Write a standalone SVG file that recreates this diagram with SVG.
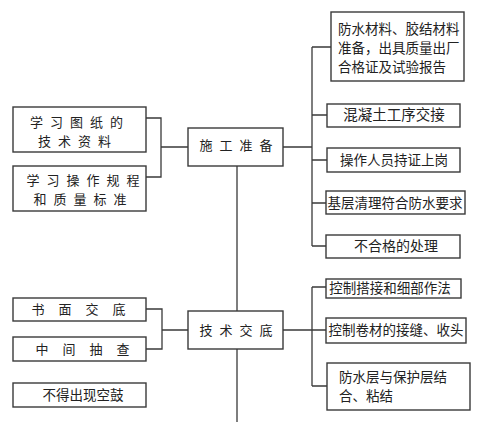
<svg xmlns="http://www.w3.org/2000/svg" width="481" height="422" viewBox="0 0 481 422">
<style>
.b{fill:#fff;stroke:#3a3a3a;stroke-width:1.4}
.c{fill:none;stroke:#3a3a3a;stroke-width:1.3}
text{font-family:"Noto Sans CJK SC","Liberation Sans",sans-serif;fill:#222;font-size:13.5px}
.m{text-anchor:middle}
.s{font-size:13px;letter-spacing:7px}
.w{font-size:13px;letter-spacing:14px}
</style>
<rect width="481" height="422" fill="#fff"/>
<g id="connectors">
<path class="c" d="M146,118H161V177H146M161,147H188"/>
<path class="c" d="M283,147H312M312,47V246M312,47H331M312,115H327M312,160H327M312,203H326M312,246H326"/>
<path class="c" d="M237,166V311M237,349V422"/>
<path class="c" d="M146,309H162V349H146M162,330H188"/>
<path class="c" d="M283,330H326M312,287V386M312,287H326M312,386H327"/>
</g>
<g id="n-study-drawings"><rect class="b" x="13" y="107" width="133" height="45"/><text class="m s" x="80" y="126.5">学习图纸的</text><text class="m s" x="78" y="145.5">技术资料</text></g>
<g id="n-study-rules"><rect class="b" x="13" y="166" width="133" height="45"/><text class="m s" x="86.5" y="184.5">学习操作规程</text><text class="m s" x="83.5" y="203.5">和质量标准</text></g>
<g id="n-prep"><rect class="b" x="188" y="128" width="95" height="38"/><text class="m s" x="239.5" y="150">施工准备</text></g>
<g id="n-materials"><rect class="b" x="331" y="12" width="133" height="69"/><text x="338" y="34">防水材料、胶结材料</text><text x="338" y="53">准备，出具质量出厂</text><text x="338" y="72">合格证及试验报告</text></g>
<g id="n-concrete"><rect class="b" x="327" y="104" width="133" height="23"/><text class="m" x="394" y="120" style="font-size:14.5px">混凝土工序交接</text></g>
<g id="n-workers"><rect class="b" x="327" y="148" width="133" height="24"/><text class="m" x="394" y="165">操作人员持证上岗</text></g>
<g id="n-base"><rect class="b" x="326" y="191" width="139" height="23"/><text class="m" x="395" y="208">基层清理符合防水要求</text></g>
<g id="n-unqualified"><rect class="b" x="326" y="235" width="134" height="23"/><text class="m" x="396" y="251" style="font-size:14px">不合格的处理</text></g>
<g id="n-tech"><rect class="b" x="188" y="311" width="95" height="38"/><text class="m s" x="239.5" y="335">技术交底</text></g>
<g id="n-written"><rect class="b" x="13" y="298" width="133" height="23"/><text class="m w" x="85.5" y="314">书面交底</text></g>
<g id="n-check"><rect class="b" x="13" y="337" width="133" height="24"/><text class="m w" x="89.5" y="354">中间抽查</text></g>
<g id="n-nohollow"><rect class="b" x="13" y="383" width="133" height="24"/><text class="m" x="83" y="400">不得出现空鼓</text></g>
<g id="n-lap"><rect class="b" x="326" y="279" width="135" height="19"/><text class="m" x="390" y="293">控制搭接和细部作法</text></g>
<g id="n-seam"><rect class="b" x="326" y="318" width="140" height="25"/><text class="m" x="396" y="335">控制卷材的接缝、收头</text></g>
<g id="n-protect"><rect class="b" x="327" y="363" width="143" height="47"/><text x="339" y="381.5">防水层与保护层结</text><text x="339" y="400.5">合、粘结</text></g>
</svg>
